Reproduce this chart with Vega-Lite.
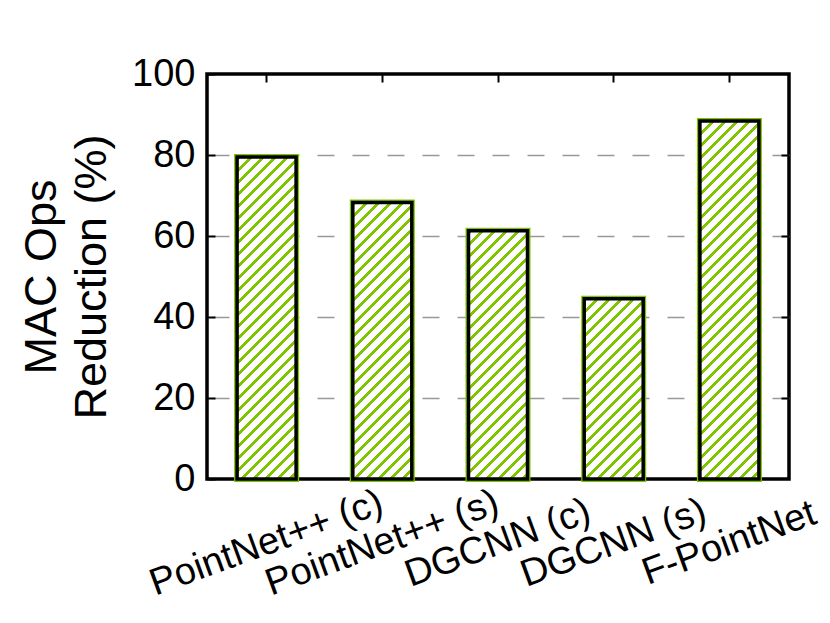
{
  "$schema": "https://vega.github.io/schema/vega-lite/v6.json",
  "width": 582,
  "height": 405,
  "autosize": {"type": "none"},
  "padding": {"left": 207, "top": 74, "right": 41, "bottom": 144},
  "background": "white",
  "config": {
    "view": {"stroke": "black", "strokeWidth": 3.5},
    "font": "Liberation Sans"
  },
  "params": [
    {"name": "hatch", "value": [
      {"offset": 0, "color": "#80c400"}, {"offset": 0.0095, "color": "#80c400"}, {"offset": 0.0095, "color": "#ffffff"}, {"offset": 0.0286, "color": "#ffffff"},
      {"offset": 0.0286, "color": "#80c400"}, {"offset": 0.0381, "color": "#80c400"}, {"offset": 0.0381, "color": "#ffffff"}, {"offset": 0.0571, "color": "#ffffff"},
      {"offset": 0.0571, "color": "#80c400"}, {"offset": 0.0667, "color": "#80c400"}, {"offset": 0.0667, "color": "#ffffff"}, {"offset": 0.0857, "color": "#ffffff"},
      {"offset": 0.0857, "color": "#80c400"}, {"offset": 0.0952, "color": "#80c400"}, {"offset": 0.0952, "color": "#ffffff"}, {"offset": 0.1143, "color": "#ffffff"},
      {"offset": 0.1143, "color": "#80c400"}, {"offset": 0.1238, "color": "#80c400"}, {"offset": 0.1238, "color": "#ffffff"}, {"offset": 0.1429, "color": "#ffffff"},
      {"offset": 0.1429, "color": "#80c400"}, {"offset": 0.1524, "color": "#80c400"}, {"offset": 0.1524, "color": "#ffffff"}, {"offset": 0.1714, "color": "#ffffff"},
      {"offset": 0.1714, "color": "#80c400"}, {"offset": 0.181, "color": "#80c400"}, {"offset": 0.181, "color": "#ffffff"}, {"offset": 0.2, "color": "#ffffff"},
      {"offset": 0.2, "color": "#80c400"}, {"offset": 0.2095, "color": "#80c400"}, {"offset": 0.2095, "color": "#ffffff"}, {"offset": 0.2286, "color": "#ffffff"},
      {"offset": 0.2286, "color": "#80c400"}, {"offset": 0.2381, "color": "#80c400"}, {"offset": 0.2381, "color": "#ffffff"}, {"offset": 0.2571, "color": "#ffffff"},
      {"offset": 0.2571, "color": "#80c400"}, {"offset": 0.2667, "color": "#80c400"}, {"offset": 0.2667, "color": "#ffffff"}, {"offset": 0.2857, "color": "#ffffff"},
      {"offset": 0.2857, "color": "#80c400"}, {"offset": 0.2952, "color": "#80c400"}, {"offset": 0.2952, "color": "#ffffff"}, {"offset": 0.3143, "color": "#ffffff"},
      {"offset": 0.3143, "color": "#80c400"}, {"offset": 0.3238, "color": "#80c400"}, {"offset": 0.3238, "color": "#ffffff"}, {"offset": 0.3429, "color": "#ffffff"},
      {"offset": 0.3429, "color": "#80c400"}, {"offset": 0.3524, "color": "#80c400"}, {"offset": 0.3524, "color": "#ffffff"}, {"offset": 0.3714, "color": "#ffffff"},
      {"offset": 0.3714, "color": "#80c400"}, {"offset": 0.381, "color": "#80c400"}, {"offset": 0.381, "color": "#ffffff"}, {"offset": 0.4, "color": "#ffffff"},
      {"offset": 0.4, "color": "#80c400"}, {"offset": 0.4095, "color": "#80c400"}, {"offset": 0.4095, "color": "#ffffff"}, {"offset": 0.4286, "color": "#ffffff"},
      {"offset": 0.4286, "color": "#80c400"}, {"offset": 0.4381, "color": "#80c400"}, {"offset": 0.4381, "color": "#ffffff"}, {"offset": 0.4571, "color": "#ffffff"},
      {"offset": 0.4571, "color": "#80c400"}, {"offset": 0.4667, "color": "#80c400"}, {"offset": 0.4667, "color": "#ffffff"}, {"offset": 0.4857, "color": "#ffffff"},
      {"offset": 0.4857, "color": "#80c400"}, {"offset": 0.4952, "color": "#80c400"}, {"offset": 0.4952, "color": "#ffffff"}, {"offset": 0.5143, "color": "#ffffff"},
      {"offset": 0.5143, "color": "#80c400"}, {"offset": 0.5238, "color": "#80c400"}, {"offset": 0.5238, "color": "#ffffff"}, {"offset": 0.5429, "color": "#ffffff"},
      {"offset": 0.5429, "color": "#80c400"}, {"offset": 0.5524, "color": "#80c400"}, {"offset": 0.5524, "color": "#ffffff"}, {"offset": 0.5714, "color": "#ffffff"},
      {"offset": 0.5714, "color": "#80c400"}, {"offset": 0.581, "color": "#80c400"}, {"offset": 0.581, "color": "#ffffff"}, {"offset": 0.6, "color": "#ffffff"},
      {"offset": 0.6, "color": "#80c400"}, {"offset": 0.6095, "color": "#80c400"}, {"offset": 0.6095, "color": "#ffffff"}, {"offset": 0.6286, "color": "#ffffff"},
      {"offset": 0.6286, "color": "#80c400"}, {"offset": 0.6381, "color": "#80c400"}, {"offset": 0.6381, "color": "#ffffff"}, {"offset": 0.6571, "color": "#ffffff"},
      {"offset": 0.6571, "color": "#80c400"}, {"offset": 0.6667, "color": "#80c400"}, {"offset": 0.6667, "color": "#ffffff"}, {"offset": 0.6857, "color": "#ffffff"},
      {"offset": 0.6857, "color": "#80c400"}, {"offset": 0.6952, "color": "#80c400"}, {"offset": 0.6952, "color": "#ffffff"}, {"offset": 0.7143, "color": "#ffffff"},
      {"offset": 0.7143, "color": "#80c400"}, {"offset": 0.7238, "color": "#80c400"}, {"offset": 0.7238, "color": "#ffffff"}, {"offset": 0.7429, "color": "#ffffff"},
      {"offset": 0.7429, "color": "#80c400"}, {"offset": 0.7524, "color": "#80c400"}, {"offset": 0.7524, "color": "#ffffff"}, {"offset": 0.7714, "color": "#ffffff"},
      {"offset": 0.7714, "color": "#80c400"}, {"offset": 0.781, "color": "#80c400"}, {"offset": 0.781, "color": "#ffffff"}, {"offset": 0.8, "color": "#ffffff"},
      {"offset": 0.8, "color": "#80c400"}, {"offset": 0.8095, "color": "#80c400"}, {"offset": 0.8095, "color": "#ffffff"}, {"offset": 0.8286, "color": "#ffffff"},
      {"offset": 0.8286, "color": "#80c400"}, {"offset": 0.8381, "color": "#80c400"}, {"offset": 0.8381, "color": "#ffffff"}, {"offset": 0.8571, "color": "#ffffff"},
      {"offset": 0.8571, "color": "#80c400"}, {"offset": 0.8667, "color": "#80c400"}, {"offset": 0.8667, "color": "#ffffff"}, {"offset": 0.8857, "color": "#ffffff"},
      {"offset": 0.8857, "color": "#80c400"}, {"offset": 0.8952, "color": "#80c400"}, {"offset": 0.8952, "color": "#ffffff"}, {"offset": 0.9143, "color": "#ffffff"},
      {"offset": 0.9143, "color": "#80c400"}, {"offset": 0.9238, "color": "#80c400"}, {"offset": 0.9238, "color": "#ffffff"}, {"offset": 0.9429, "color": "#ffffff"},
      {"offset": 0.9429, "color": "#80c400"}, {"offset": 0.9524, "color": "#80c400"}, {"offset": 0.9524, "color": "#ffffff"}, {"offset": 0.9714, "color": "#ffffff"},
      {"offset": 0.9714, "color": "#80c400"}, {"offset": 0.981, "color": "#80c400"}, {"offset": 0.981, "color": "#ffffff"}, {"offset": 1, "color": "#ffffff"}
    ]}
  ],
  "data": {
    "values": [
      {"model": "PointNet++ (c)", "v": 79.5},
      {"model": "PointNet++ (s)", "v": 68.3},
      {"model": "DGCNN (c)", "v": 61.3},
      {"model": "DGCNN (s)", "v": 44.5},
      {"model": "F-PointNet", "v": 88.4}
    ]
  },
  "layer": [
    {
      "mark": {"type": "bar", "fill": "white", "stroke": "#80c400", "strokeWidth": 6},
      "encoding": {
        "x": {
          "field": "model", "type": "nominal", "sort": null,
          "scale": {"paddingInner": 0.49, "paddingOuter": 0.26},
          "axis": {
            "orient": "bottom", "title": null, "domain": false, "ticks": false, "tickSize": 0,
            "labelAngle": -20, "labelAlign": "center", "labelBaseline": "middle",
            "labelPadding": 64, "labelFontSize": 38, "labelFont": "Liberation Sans",
            "labelColor": "black", "labelOverlap": false, "labelLimit": 0, "grid": false
          }
        },
        "y": {
          "field": "v", "type": "quantitative",
          "scale": {"domain": [0, 100], "nice": false, "zero": true},
          "axis": {
            "orient": "left",
            "title": ["MAC Ops", "Reduction (%)"],
            "titleFontSize": 45, "titleFont": "Liberation Sans", "titleFontWeight": "normal",
            "titleColor": "black", "titleX": -152, "titleY": 202.5, "titleAngle": -90,
            "titleAlign": "center", "titleBaseline": "alphabetic", "titleLineHeight": 50,
            "values": [0, 20, 40, 60, 80, 100],
            "domain": false, "ticks": true, "tickSize": -8, "tickWidth": 2, "tickColor": "black",
            "labelPadding": 20, "labelFontSize": 38, "labelFont": "Liberation Sans",
            "labelColor": "black", "labelFlush": false, "grid": false
          }
        }
      }
    },
    {
      "mark": {"type": "bar", "stroke": "black", "strokeWidth": 3.5},
      "encoding": {
        "x": {
          "field": "model", "type": "nominal", "sort": null,
          "scale": {"paddingInner": 0.49, "paddingOuter": 0.26},
          "axis": {
            "orient": "top", "title": null, "labels": false, "domain": false,
            "ticks": true, "tickSize": -8, "tickWidth": 2, "tickColor": "black", "grid": false
          }
        },
        "y": {
          "field": "v", "type": "quantitative",
          "scale": {"domain": [0, 100], "nice": false, "zero": true},
          "axis": {
            "orient": "right", "title": null, "labels": false, "domain": false,
            "values": [20, 40, 60, 80],
            "ticks": true, "tickSize": -8, "tickWidth": 2, "tickColor": "black",
            "grid": true, "gridDash": [17, 18], "gridColor": "#999999", "gridWidth": 1.5
          }
        },
        "fill": {"value": {"expr": "{gradient: 'linear', x1: 0, y1: 0, x2: 420*bandwidth('x')/(pow(bandwidth('x'),2)+pow(scale('y',0)-scale('y',datum.v),2)), y2: 420*(scale('y',0)-scale('y',datum.v))/(pow(bandwidth('x'),2)+pow(scale('y',0)-scale('y',datum.v),2)), stops: hatch}"}}
      }
    }
  ],
  "resolve": {"axis": {"x": "independent", "y": "independent"}}
}
